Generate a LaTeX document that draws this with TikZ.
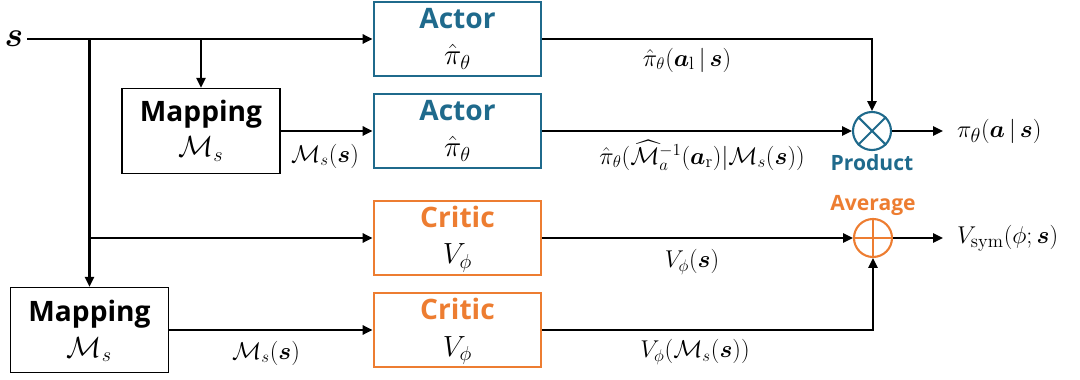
\documentclass[tikz,border=0pt]{standalone}
\usepackage{amsmath}
\usepackage{fontspec}
\newfontfamily\headfont{Open Sans}
\usetikzlibrary{arrows.meta}

\definecolor{actorblue}{RGB}{31,106,140}
\definecolor{criticorange}{RGB}{237,125,49}

\begin{document}
\begin{tikzpicture}[x=0.025cm,y=-0.025cm,line width=1.5pt,
  >={Triangle[length=7pt,width=6.5pt]},
  netbox/.style={draw,line width=2pt,minimum width=4.175cm,minimum height=1.85cm,inner sep=0pt},
  mapbox/.style={draw,line width=1pt,minimum width=3.95cm,minimum height=2.125cm,inner sep=0pt},
  boxtitle/.style={anchor=base,inner sep=0pt,font=\headfont\bfseries\fontsize{20}{24}\selectfont},
  inmath/.style={anchor=base,inner sep=0pt,font=\fontsize{22}{26}\selectfont},
  edgelbl/.style={inner sep=0pt,font=\fontsize{18}{22}\selectfont},
  outlbl/.style={anchor=west,inner sep=0pt,inner xsep=10pt,outer sep=0pt,font=\fontsize{19}{23}\selectfont},
  op/.style={circle,draw,line width=1.5pt,minimum size=0.95cm,inner sep=0pt},
  oplbl/.style={inner sep=0pt,font=\headfont\bfseries\fontsize{15}{18}\selectfont}]
\useasboundingbox (0,0) rectangle (1080,380);

% input state
\node[inner sep=2pt,font=\fontsize{26}{30}\selectfont] (s) at (14,39) {$\boldsymbol{s}$};

% mapping blocks
\node[mapbox] (map1) at (201,131) {};
\node[boxtitle] (map1-t) at (201,122) {Mapping};
\node[inmath] (map1-m) at (201,157) {$\mathcal{M}_s$};
\node[mapbox] (map2) at (89.5,330) {};
\node[boxtitle] (map2-t) at (89.5,322) {Mapping};
\node[inmath] (map2-m) at (89.5,357) {$\mathcal{M}_s$};

% actor and critic blocks
\foreach \n/\y/\c/\t/\m in {act1/39/actorblue/Actor/\hat\pi_\theta, act2/131/actorblue/Actor/\hat\pi_\theta,
    crit1/238/criticorange/Critic/V_\phi, crit2/330/criticorange/Critic/V_\phi} {
  \node[netbox,draw=\c] (\n) at (457.5,\y) {};
  \node[boxtitle,text=\c] (\n-t) at (457.5,\y-10) {\t};
  \node[inmath] (\n-m) at (457.5,\y+26) {$\m$};
}

% product and average
\node[op,draw=actorblue] (prod) at (872,131) {};
\node[oplbl,text=actorblue] (prod-l) at (872,163) {Product};
\node[op,draw=criticorange] (avg) at (873,238) {};
\node[oplbl,text=criticorange] (avg-l) at (873,205) {Average};
\draw[actorblue] (prod.north east) -- (prod.south west) (prod.north west) -- (prod.south east);
\draw[criticorange] (avg.north) -- (avg.south) (avg.west) -- (avg.east);

% outputs
\node[outlbl] (out1) at (943,131) {$\pi_\theta(\boldsymbol{a}\,|\,\boldsymbol{s})$};
\node[outlbl] (out2) at (943,238) {$V_{\mathrm{sym}}(\phi;\boldsymbol{s})$};

% edge labels
\node[edgelbl] (l-map1) at (325,156) {$\mathcal{M}_s(\boldsymbol{s})$};
\node[edgelbl] (l-map2) at (266,353) {$\mathcal{M}_s(\boldsymbol{s})$};
\node[edgelbl] (l-act1) at (687,60) {$\hat\pi_\theta(\boldsymbol{a}_{\mathrm{l}}\,|\,\boldsymbol{s})$};
\node[edgelbl] (l-act2) at (702,155) {$\hat\pi_\theta(\widehat{\mathcal{M}}_a^{-1}(\boldsymbol{a}_{\mathrm{r}})|\mathcal{M}_s(\boldsymbol{s}))$};
\node[edgelbl] (l-crit1) at (692,262) {$V_\phi(\boldsymbol{s})$};
\node[edgelbl] (l-crit2) at (695,352) {$V_\phi(\mathcal{M}_s(\boldsymbol{s}))$};

% connectors
\draw[->] (s) -- (act1);
\draw[->] (s -| map1) -- (map1);
\draw[->] (s -| map2) -- (map2);
\draw[->] (crit1 -| map2) -- (crit1);
\draw[->] (map1) -- (act2);
\draw[->] (map2) -- (crit2);
\draw[->] (act1) -| (prod);
\draw[->] (act2) -- (prod);
\draw[->] (crit1) -- (avg);
\draw[->] (crit2) -| (avg);
\draw[->] (prod) -- (out1);
\draw[->] (avg) -- (out2);
\end{tikzpicture}
\end{document}
